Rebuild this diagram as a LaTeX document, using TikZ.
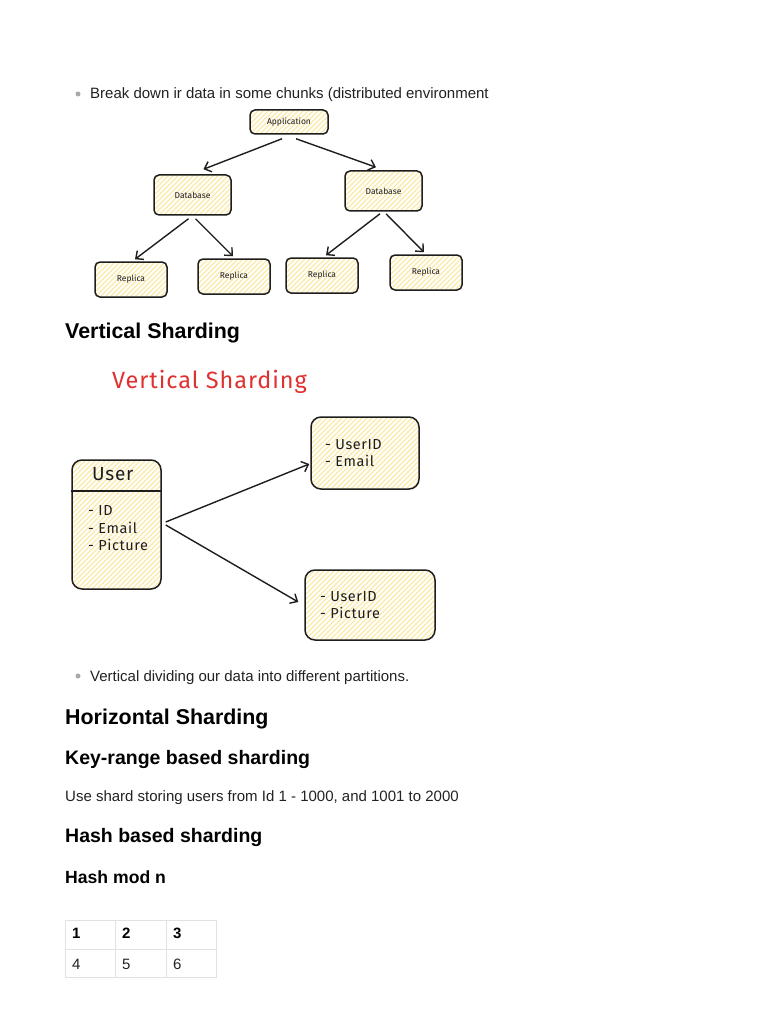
\documentclass[tikz,border=0pt]{standalone}
\usepackage{fontspec}
\setmainfont{Liberation Sans}
\newfontfamily\hand[LetterSpace=4]{Fira Sans}
\newfontfamily\handsmall{Fira Sans}
\usetikzlibrary{arrows.meta,calc}
\definecolor{ink}{HTML}{1E1E1E}
\definecolor{hatch}{HTML}{FBEAA8}
\definecolor{redink}{HTML}{E03131}
\definecolor{txt}{HTML}{222222}
\definecolor{gridc}{HTML}{E2E2E2}
\definecolor{bulletc}{HTML}{AAAAAA}
\tikzset{
  hatchfill/.style={path picture={
    \foreach \i in {-140,-135,...,140}{
      \draw[hatch, line width=1.1pt] ([xshift=\i pt]path picture bounding box.south west) -- ++(140pt,140pt);
    }}},
  xbox/.style={draw=ink, line width=1.5pt, rounded corners=5pt, fill=white, hatchfill,
    inner sep=0pt, font=\handsmall\fontsize{8.5}{10}\selectfont, text=ink},
  bigbox/.style={xbox, rounded corners=10pt},
  arr/.style={draw=ink, line width=1.4pt, -{Straight Barb[length=6pt,width=11pt]}},
  body/.style={anchor=base west, inner sep=0pt, font=\fontsize{15}{18}\selectfont, text=txt},
  htwo/.style={anchor=base west, inner sep=0pt, font=\bfseries\fontsize{21.4}{25}\selectfont, text=black},
  hthree/.style={anchor=base west, inner sep=0pt, font=\bfseries\fontsize{19.5}{23}\selectfont, text=black},
  hfour/.style={anchor=base west, inner sep=0pt, font=\bfseries\fontsize{17.6}{21}\selectfont, text=black},
  htext/.style={anchor=base west, inner sep=0pt, font=\hand\fontsize{14.5}{17}\selectfont, text=ink},
  cell/.style={anchor=base west, inner sep=0pt, font=\fontsize{15}{18}\selectfont, text=txt},
  bullet/.style={circle, fill=bulletc, inner sep=0pt, minimum size=5pt},
}
\begin{document}
\begin{tikzpicture}[x=1pt,y=-1pt]
\useasboundingbox (0,0) rectangle (768,1024);
\fill[white] (0,0) rectangle (768,1024);

% bullet 1
\node[bullet] (b1) at (78,94) {};
\node[body] (t1) at (90,99) {Break down ir data in some chunks (distributed environment};

% tree
\node[xbox, minimum width=78, minimum height=24] (app) at (289,122) {Application};
\node[xbox, minimum width=77, minimum height=40] (dbl) at (192.5,195) {Database};
\node[xbox, minimum width=77, minimum height=40] (dbr) at (383.5,191) {Database};
\node[xbox, minimum width=72, minimum height=35] (r1) at (131,279.5) {Replica};
\node[xbox, minimum width=72, minimum height=35] (r2) at (234,276.5) {Replica};
\node[xbox, minimum width=72, minimum height=35] (r3) at (322,275.5) {Replica};
\node[xbox, minimum width=72, minimum height=35] (r4) at (426,272.5) {Replica};
\draw[arr] ($(app.south)+(-7,4)$) -- ($(dbl.north)+(11,-5)$);
\draw[arr] ($(app.south)+(7,4)$) -- ($(dbr.north)+(-7.5,-3)$);
\draw[arr] ($(dbl.south)+(-4,3)$) -- ($(r1.north)+(4,-2)$);
\draw[arr] ($(dbl.south)+(3,3)$) -- ($(r2.north)+(-1,-2)$);
\draw[arr] ($(dbr.south)+(-3.5,2)$) -- ($(r3.north)+(4,-2)$);
\draw[arr] ($(dbr.south)+(2.5,2)$) -- ($(r4.north)+(-2,-2)$);

% vertical sharding
\node[htwo] (h1) at (65,338) {Vertical Sharding};
\node[anchor=base west, inner sep=0pt, font=\hand\fontsize{23.5}{27}\selectfont, text=redink] (rt) at (112,388) {Vertical Sharding};

\node[bigbox, minimum width=89, minimum height=129] (user) at (116.5,524.5) {};
\draw[draw=ink, line width=1.5pt] (user.west |- 0,491) -- (user.east |- 0,491);
\node[htext, font=\hand\fontsize{19}{22}\selectfont] (ut) at (92,480) {User};
\node[htext] (u1) at (88,515) {- ID};
\node[htext] (u2) at (88,533) {- Email};
\node[htext] (u3) at (88,550) {- Picture};

\node[bigbox, minimum width=108, minimum height=72] (top) at (365,453) {};
\node[htext] (p1) at (325,449) {- UserID};
\node[htext] (p2) at (325,466) {- Email};

\node[bigbox, minimum width=130, minimum height=70] (bot) at (370,605) {};
\node[htext] (q1) at (320,601) {- UserID};
\node[htext] (q2) at (320,618) {- Picture};

\draw[arr] ($(user.east)+(4,-2.5)$) -- ($(top.west)+(-1,11)$);
\draw[arr] ($(user.east)+(4,0.5)$) -- ($(bot.west)+(-6,-3)$);

% bullet 2
\node[bullet] (b2) at (78,676) {};
\node[body] (t2) at (90,681) {Vertical dividing our data into different partitions.};

\node[htwo] (h2) at (65,724) {Horizontal Sharding};
\node[hthree] (h3) at (65,764) {Key-range based sharding};
\node[body] (t3) at (65,801) {Use shard storing users from Id 1 - 1000, and 1001 to 2000};
\node[hthree] (h4) at (65,842) {Hash based sharding};
\node[hfour] (h5) at (65,883) {Hash mod n};

% table
\draw[gridc, line width=1pt] (65,920) rectangle (216,977);
\draw[gridc, line width=1pt] (65,949) -- (216,949);
\draw[gridc, line width=1pt] (115,920) -- (115,977);
\draw[gridc, line width=1pt] (166,920) -- (166,977);
\node[cell, font=\bfseries\fontsize{15}{18}\selectfont, text=black] (c1) at (72,938) {1};
\node[cell, font=\bfseries\fontsize{15}{18}\selectfont, text=black] (c2) at (122,938) {2};
\node[cell, font=\bfseries\fontsize{15}{18}\selectfont, text=black] (c3) at (173,938) {3};
\node[cell] (c4) at (72,969) {4};
\node[cell] (c5) at (122,969) {5};
\node[cell] (c6) at (173,969) {6};
\end{tikzpicture}
\end{document}
